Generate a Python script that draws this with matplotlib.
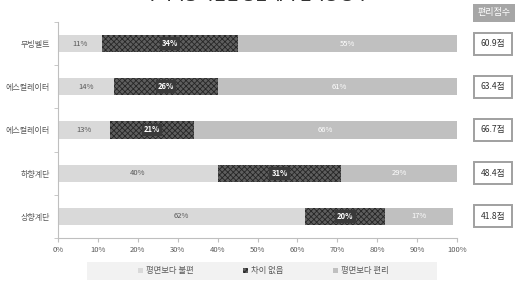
import numpy as np
import matplotlib
matplotlib.use('Agg')
import matplotlib.pyplot as plt
from matplotlib.patches import Patch, Rectangle

plt.rcParams['font.family'] = ['Noto Sans CJK KR', 'DejaVu Sans']
plt.rcParams['hatch.linewidth'] = 0.6

# 데이터 (위에서 아래 순서)
시설 = ['무빙벨트', '에스컬레이터', '에스컬레이터', '하향계단', '상향계단']
불편 = [11, 14, 13, 40, 62]
차이없음 = [34, 26, 21, 31, 20]
편리 = [55, 61, 66, 29, 17]
편리점수 = ['60.9점', '63.4점', '66.7점', '48.4점', '41.8점']
x_눈금 = [f'{v}%' for v in range(0, 101, 10)]

회색글자 = '#595959'

fig = plt.figure(figsize=(5.23, 2.85), dpi=100)
ax = fig.add_axes([0.111, 0.165, 0.763, 0.758])

y = np.arange(len(시설))[::-1]
h = 0.4
a = np.array(불편)
b = np.array(차이없음)
c = np.array(편리)

ax.barh(y, a, height=h, color='#d9d9d9', edgecolor='none')
ax.barh(y, b, left=a, height=h, color='#5e5e5e', edgecolor='#262626',
        hatch='xxxxxx', linewidth=0)
ax.barh(y, c, left=a + b, height=h, color='#c0c0c0', edgecolor='none')

for yi, ai, bi, ci, s in zip(y, a, b, c, 편리점수):
    ax.text(ai / 2, yi, f'{ai}%', ha='center', va='center', fontsize=5.5,
            color=회색글자)
    ax.text(ai + bi / 2, yi, f'{bi}%', ha='center', va='center', fontsize=5.5,
            color='white', fontweight='bold',
            bbox=dict(boxstyle='square,pad=0.25', fc='#3a3a3a', ec='none'))
    ax.text(ai + bi + ci / 2, yi, f'{ci}%', ha='center', va='center',
            fontsize=5.5, color='white')
    ax.text(1.09, yi, s, transform=ax.get_yaxis_transform(), ha='center',
            va='center', fontsize=6.2, color='#333333', clip_on=False,
            bbox=dict(boxstyle='square,pad=0.75', fc='white', ec='#a0a0a0',
                      lw=1.4))

ax.set_xlim(0, 100)
ax.set_ylim(-0.5, len(시설) - 0.5)
ax.set_xticks(range(0, 101, 10))
ax.set_xticklabels(x_눈금, fontsize=5.5, color=회색글자)
ax.set_yticks(y)
ax.set_yticklabels(시설, fontsize=5.8, color=회색글자)
ax.tick_params(axis='y', length=0, pad=6)
ax.set_yticks(np.arange(-0.5, len(시설), 1), minor=True)
ax.tick_params(axis='y', which='minor', length=3, color='#bfbfbf')
ax.tick_params(axis='x', length=3, color='#bfbfbf', pad=3)

for side in ['top', 'right']:
    ax.spines[side].set_visible(False)
for side in ['left', 'bottom']:
    ax.spines[side].set_color('#bfbfbf')
    ax.spines[side].set_linewidth(0.8)

# 편리점수 머리글
fig.text(0.944, 0.955, '편리점수', ha='center', va='center', fontsize=6.5,
         color='white',
         bbox=dict(boxstyle='square,pad=0.5', fc='#a6a6a6', ec='none'))

# 잘린 제목
fig.text(0.49, 1.0, '수직이동 시설별 평면 대비 편리성 평가', ha='center',
         va='baseline', fontsize=10, fontweight='bold', color='#333333')

# 범례 배경
fig.patches.append(Rectangle((87 / 523, 1 - 280 / 285), 350 / 523, 18 / 285,
                             transform=fig.transFigure, fc='#f2f2f2',
                             ec='none', zorder=0))
handles = [
    Patch(facecolor='#d9d9d9', edgecolor='none', label='평면보다 불편'),
    Patch(facecolor='#5e5e5e', edgecolor='#262626', hatch='xxxxxx',
          linewidth=0, label='차이 없음'),
    Patch(facecolor='#c0c0c0', edgecolor='none', label='평면보다 편리'),
]
leg = fig.legend(handles=handles, loc='center', bbox_to_anchor=(0.503, 0.05),
                 ncol=3, fontsize=6, frameon=False,
                 handlelength=0.6, handleheight=0.6, handletextpad=0.3,
                 columnspacing=6.0)
for t in leg.get_texts():
    t.set_color(회색글자)

fig.savefig('out.png', dpi=100)
